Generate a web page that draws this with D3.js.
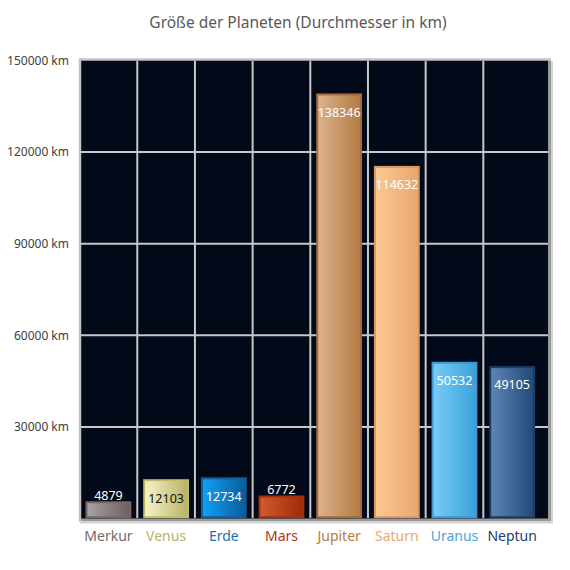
<!DOCTYPE html>
<html><head><meta charset="utf-8">
<script src="https://cdn.jsdelivr.net/npm/d3@7"></script>
<style>body{margin:0;background:#fff;}svg{display:block;font-family:"Noto Sans","Open Sans",sans-serif;}</style>
</head><body>
<script>
const planets = ["Merkur","Venus","Erde","Mars","Jupiter","Saturn","Uranus","Neptun"];
const diameters = [4879,12103,12734,6772,138346,114632,50532,49105];
const yTicks = [30000,60000,90000,120000,150000];
const title = "Größe der Planeten (Durchmesser in km)";
const gradLight = ["#a8a4a4","#f7f5c8","#12a2f5","#d45c2e","#dcb48c","#fcc994","#78cbf8","#5f86b4"];
const gradDark  = ["#6e5e5e","#b9b264","#0a5c9e","#a0290a","#b37a42","#e8a66e","#3aa2d8","#214977"];
const strokeCol = ["#7a6868","#c2bb6a","#0e5e9e","#a4300f","#a36c3a","#d8985e","#3b99d4","#1c3d66"];
const labelCol  = ["#7a6868","#b9b264","#1f6fb2","#b0351a","#b47c48","#e8a870","#4aa6d6","#21406a"];
const valueCol  = ["#fff","#111","#fff","#fff","#fff","#fff","#fff","#fff"];

const W=570,H=570;
const svg=d3.select("body").append("svg").attr("width",W).attr("height",H);
const defs=svg.append("defs");
planets.forEach((p,i)=>{
  const g=defs.append("linearGradient").attr("id","g"+i).attr("x1","0").attr("x2","1").attr("y1","0").attr("y2","0");
  g.append("stop").attr("offset","0").attr("stop-color",gradLight[i]);
  g.append("stop").attr("offset","1").attr("stop-color",gradDark[i]);
});

const pLeft=79.6,pRight=541,pTop=60.3,pBottom=518.7;
const x=d3.scaleBand().domain(planets).range([pLeft,pRight]).paddingInner(0.24).paddingOuter(0.12);
const xb=d3.scaleBand().domain(planets).range([pLeft,pRight]);
const y=d3.scaleLinear().domain([0,150000]).range([pBottom,pTop]);

svg.append("text").attr("x",298).attr("y",28).attr("text-anchor","middle")
  .attr("font-size",15.5).attr("fill","#595959").text(title);

// plot background + border
svg.append("rect").attr("x",80).attr("y",59.5).attr("width",469).attr("height",460)
  .attr("fill","#020a19");
svg.append("line").attr("x1",549.5).attr("x2",549.5).attr("y1",60).attr("y2",521).attr("stroke","#9a9a9a").attr("stroke-width",3);
svg.append("line").attr("x1",552).attr("x2",552).attr("y1",61).attr("y2",522).attr("stroke","#d4d4d4").attr("stroke-width",2);
svg.append("line").attr("x1",79).attr("x2",551).attr("y1",520).attr("y2",520).attr("stroke","#9a9a9a").attr("stroke-width",3);
svg.append("line").attr("x1",80).attr("x2",553).attr("y1",522.5).attr("y2",522.5).attr("stroke","#d4d4d4").attr("stroke-width",2);
svg.append("line").attr("x1",80).attr("x2",80).attr("y1",58.5).attr("y2",521).attr("stroke","#c4c4c4").attr("stroke-width",2.5);
svg.append("line").attr("x1",79).attr("x2",551).attr("y1",59.5).attr("y2",59.5).attr("stroke","#c4c4c4").attr("stroke-width",2.5);

// gridlines
svg.append("g").selectAll("line").data(yTicks.filter(t=>t<150000)).join("line")
  .attr("x1",81).attr("x2",548).attr("y1",d=>y(d)).attr("y2",d=>y(d))
  .attr("stroke","#c8c8c8").attr("stroke-width",2);
svg.append("g").selectAll("line").data(planets.slice(1)).join("line")
  .attr("x1",d=>xb(d)).attr("x2",d=>xb(d)).attr("y1",61).attr("y2",518)
  .attr("stroke","#c8c8c8").attr("stroke-width",2);

// y axis labels
const yAxis=d3.axisLeft(y).tickValues(yTicks).tickSize(0).tickPadding(0).tickFormat(d=>d+" km");
const ya=svg.append("g").attr("transform","translate(69,0)").call(yAxis);
ya.select(".domain").remove();
ya.selectAll("text").attr("font-size",12).attr("fill","#404040").attr("font-family","Noto Sans, sans-serif");

// bars
const data=planets.map((p,i)=>({p,v:diameters[i],i}));
svg.append("g").selectAll("rect").data(data).join("rect")
  .attr("x",d=>x(d.p)).attr("width",x.bandwidth())
  .attr("y",d=>y(d.v)-1.5).attr("height",d=>pBottom-y(d.v))
  .attr("fill",d=>"url(#g"+d.i+")").attr("stroke",d=>strokeCol[d.i]).attr("stroke-width",2);

// value labels
svg.append("g").selectAll("text").data(data).join("text")
  .attr("x",d=>x(d.p)+x.bandwidth()/2)
  .attr("y",d=>{const t=y(d.v)-1.5,h=pBottom-t; if(h>=34) return Math.min(t+18,(t+pBottom)/2)+4.3; return t-7+4.3;})
  .attr("text-anchor","middle").attr("font-size",12.5).attr("fill",d=>valueCol[d.i]).text(d=>d.v);

// x labels
svg.append("g").selectAll("text").data(data).join("text")
  .attr("x",d=>xb(d.p)+xb.bandwidth()/2).attr("y",541)
  .attr("text-anchor","middle").attr("font-size",14).attr("fill",d=>labelCol[d.i]).text(d=>d.p);
</script>
</body></html>
